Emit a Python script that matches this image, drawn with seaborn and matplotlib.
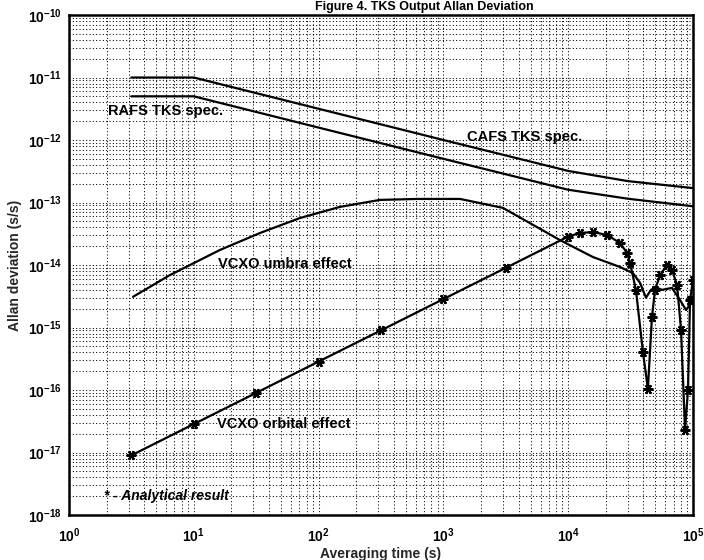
import numpy as np
import pandas as pd
import matplotlib
matplotlib.use("Agg")
import matplotlib.pyplot as plt
import seaborn as sns
from matplotlib.ticker import LogLocator, FuncFormatter, NullFormatter

# ---- data ----
tau_spec = [3.16, 10, 100, 1000, 10000, 30000, 100000]
spec_upper = [1.0e-11, 1.0e-11, 3.16e-12, 1.0e-12, 3.2e-13, 2.2e-13, 1.7e-13]
spec_lower = [5.0e-12, 5.0e-12, 1.58e-12, 5.0e-13, 1.6e-13, 1.15e-13, 8.7e-14]

tau_umbra = [3.26, 6.44, 16.2, 33.9, 71, 148, 310, 614, 1360, 3000, 8600, 15800,
             26000, 33000, 37600, 42000, 46000, 50500, 56400, 67900, 78700, 88000, 100000]
umbra = [3.1e-15, 6.9e-15, 1.74e-14, 3.25e-14, 5.65e-14, 8.5e-14, 1.1e-13, 1.14e-13,
         1.14e-13, 8.2e-14, 2.5e-14, 1.34e-14, 9.3e-15, 7.4e-15, 5.2e-15, 3.0e-15,
         4.0e-15, 4.4e-15, 4.0e-15, 4.3e-15, 2.75e-15, 1.9e-15, 2.75e-15]

tau_orbital = [3.16, 10, 31.6, 100, 316, 1000, 3162, 10000, 12400, 15800, 20500, 26000,
               29600, 31300, 34900, 39700, 43500, 46900, 49600, 54400, 62000, 67900,
               74500, 80200, 86300, 91200, 94700, 100000]
orbital = [9e-18, 2.85e-17, 9e-17, 2.85e-16, 9e-16, 2.85e-15, 9e-15, 2.85e-14, 3.25e-14,
           3.37e-14, 3.02e-14, 2.25e-14, 1.56e-14, 1.08e-14, 3.98e-15, 4.06e-16, 1.04e-16,
           1.47e-15, 3.98e-15, 6.9e-15, 1.0e-14, 8.3e-15, 4.8e-15, 9.1e-16, 2.3e-17,
           1e-16, 2.75e-15, 5.75e-15]

x_decades = [1e0, 1e1, 1e2, 1e3, 1e4, 1e5]
y_decades = [1e-18, 1e-17, 1e-16, 1e-15, 1e-14, 1e-13, 1e-12, 1e-11, 1e-10]

sns.set_theme(style="white")
plt.rcParams["font.family"] = ["Liberation Sans", "DejaVu Sans"]
plt.rcParams["font.weight"] = "bold"
plt.rcParams["mathtext.fontset"] = "custom"
plt.rcParams["mathtext.rm"] = "Liberation Sans:bold"
plt.rcParams["mathtext.it"] = "Liberation Sans:bold"
plt.rcParams["mathtext.bf"] = "Liberation Sans:bold"
plt.rcParams["mathtext.default"] = "rm"

fig = plt.figure(figsize=(7.04, 5.6), dpi=100)
ax = fig.add_axes([69 / 704, 45 / 560, 624 / 704, 500 / 560])

df_up = pd.DataFrame({"tau": tau_spec, "adev": spec_upper})
df_lo = pd.DataFrame({"tau": tau_spec, "adev": spec_lower})
df_um = pd.DataFrame({"tau": tau_umbra, "adev": umbra})
df_or = pd.DataFrame({"tau": tau_orbital, "adev": orbital})

lw = 1.6
for d in (df_up, df_lo, df_um):
    sns.lineplot(data=d, x="tau", y="adev", ax=ax, color="black", linewidth=lw,
                 estimator=None, sort=False, legend=False)
sns.lineplot(data=df_or, x="tau", y="adev", ax=ax, color="black", linewidth=lw,
             estimator=None, sort=False, legend=False, marker=(6, 2, 90),
             markersize=7, markeredgewidth=1.6, markeredgecolor="black")

ax.set_xscale("log")
ax.set_yscale("log")
ax.set_xlim(x_decades[0], x_decades[-1])
ax.set_ylim(y_decades[0], y_decades[-1])
ax.set_xticks(x_decades)
ax.set_yticks(y_decades)
ax.xaxis.set_minor_locator(LogLocator(base=10, subs=np.arange(2, 10)))
ax.yaxis.set_minor_locator(LogLocator(base=10, subs=np.arange(2, 10)))
ax.xaxis.set_minor_formatter(NullFormatter())
ax.yaxis.set_minor_formatter(NullFormatter())
fmt = FuncFormatter(lambda v, p: r"$10^{%d}$" % int(round(np.log10(v))))
ax.xaxis.set_major_formatter(fmt)
ax.yaxis.set_major_formatter(fmt)

ax.grid(True, which="both", linestyle=(0, (1, 2.2)), color="black", linewidth=0.75)
ax.tick_params(which="both", direction="in", length=0, labelsize=10, colors="black")
ax.tick_params(axis="x", pad=8)
ax.tick_params(axis="y", pad=5)
for s in ax.spines.values():
    s.set_color("black")
    s.set_linewidth(1.8)

ax.set_xlabel("Averaging time (s)", fontsize=10, fontweight="bold", labelpad=2)
ax.set_ylabel("Allan deviation (s/s)", fontsize=10, fontweight="bold", labelpad=4)

tkw = dict(fontsize=10.5, fontweight="bold", color="black", va="center", ha="left",
           transform=fig.transFigure)
def fx(px):
    return px / 704
def fy(py):
    return 1 - py / 560

ax.text(fx(108), fy(111), "RAFS TKS spec.", **tkw)
ax.text(fx(467), fy(137), "CAFS TKS spec.", **tkw)
ax.text(fx(218), fy(264), "VCXO umbra effect", **tkw)
ax.text(fx(217), fy(424), "VCXO orbital effect", **tkw)
ax.text(fx(104), fy(496), "* - Analytical result", fontsize=10, fontweight="bold",
        style="italic", color="black", va="center", ha="left", transform=fig.transFigure)

fig.text(fx(424), fy(1), "Figure 4. TKS Output Allan Deviation", fontsize=9,
         fontweight="bold", ha="center", va="top", color="black")

fig.savefig("out.png", dpi=100, facecolor="white")
